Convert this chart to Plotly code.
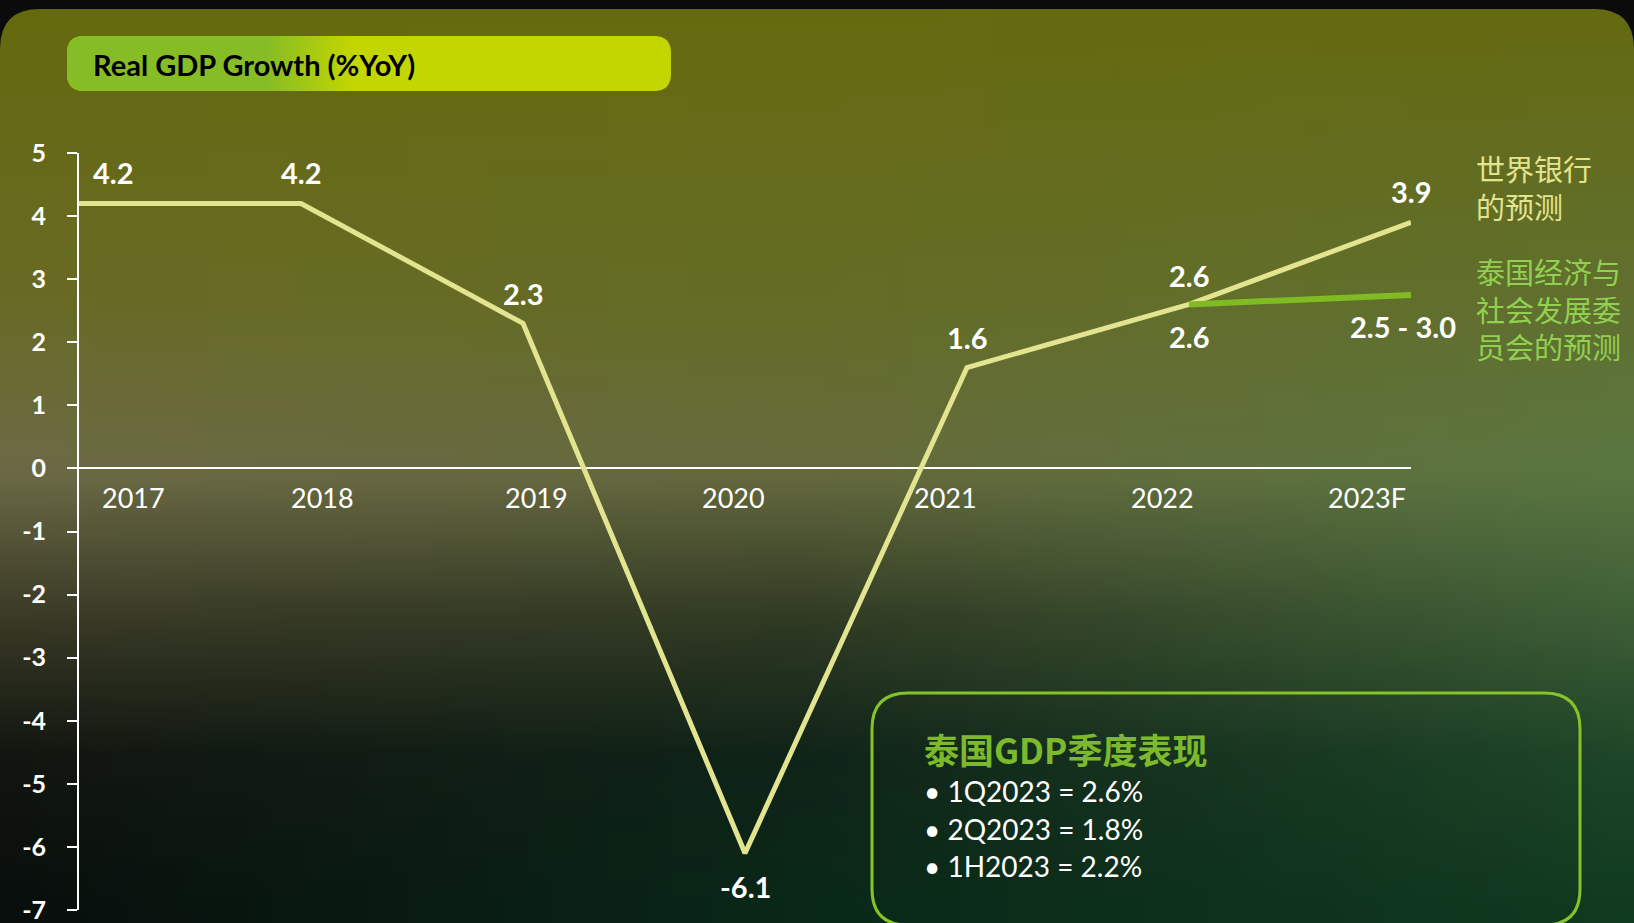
import base64
import struct
import zlib

import plotly.graph_objects as go

# -----------------------------
# Data
# -----------------------------

years = ["2017", "2018", "2019", "2020", "2021", "2022", "2023F"]
gdp_growth = [4.2, 4.2, 2.3, -6.1, 1.6, 2.6, 3.9]
gdp_labels = ["4.2", "4.2", "2.3", "-6.1", "1.6", "2.6", "3.9"]

nesdc_years = ["2022", "2023F"]
nesdc_growth = [2.6, 2.75]
nesdc_labels = ["2.6", "2.5 - 3.0"]

y_ticks = list(range(-7, 6))

chart_title = "Real GDP Growth (%YoY)"
wb_note = ["世界银行", "的预测"]
nesdc_note = ["泰国经济与", "社会发展委", "员会的预测"]

quarter_title = "泰国GDP季度表现"
quarter_lines = ["1Q2023 = 2.6%", "2Q2023 = 1.8%", "1H2023 = 2.2%"]

# -----------------------------
# Page geometry / styles
# -----------------------------

W, H = 1634, 923
ML, MR, MT, MB = 79, 223, 153, 13
PW = W - ML - MR
PH = H - MT - MB

PALE = "#e3e48f"
GREEN = "#80bb24"
NOTE_GREEN = "#92d050"
FONT = "Lato, Noto Sans CJK SC, sans-serif"
CJK = "Noto Sans CJK SC, Lato, sans-serif"

# label offsets in pixels (x, y)
gdp_label_dx = [34, 0, 0, 0, 0, 0, 0]
gdp_label_dy = [31, 31, 30, -33, 30, 29, 31]
nesdc_label_dx = [0, -8]
nesdc_label_dy = [-32, -32]
year_label_dx = [54, 21, 13, -12, -22, -27, -44]


def fx(x):
    return (x - ML) / PW


def fy(y):
    return 1 - (y - MT) / PH


def pt(x, y):
    return f"{fx(x):.5f},{fy(y):.5f}"


def rounded_rect(x0, y0, x1, y1, r):
    return (
        f"M {pt(x0 + r, y0)} L {pt(x1 - r, y0)} Q {pt(x1, y0)} {pt(x1, y0 + r)} "
        f"L {pt(x1, y1 - r)} Q {pt(x1, y1)} {pt(x1 - r, y1)} "
        f"L {pt(x0 + r, y1)} Q {pt(x0, y1)} {pt(x0, y1 - r)} "
        f"L {pt(x0, y0 + r)} Q {pt(x0, y0)} {pt(x0 + r, y0)} Z"
    )


def mix(c1, c2, t):
    return tuple(int(round(a + (b - a) * t)) for a, b in zip(c1, c2))


# -----------------------------
# Background gradient as a small png
# -----------------------------

bg_cols = [0, 800, 1634]
bg_rows = [9, 300, 470, 620, 760, 923]
bg_colors = [
    [(101, 105, 14), (102, 106, 15), (100, 106, 18)],
    [(104, 106, 38), (100, 108, 38), (96, 112, 48)],
    [(108, 106, 70), (102, 106, 62), (90, 118, 64)],
    [(58, 58, 38), (48, 58, 36), (62, 94, 54)],
    [(18, 22, 16), (16, 36, 24), (30, 70, 40)],
    [(8, 14, 12), (9, 40, 24), (16, 58, 32)],
]


def seg(stops, v):
    for i in range(len(stops) - 1):
        if v <= stops[i + 1]:
            return i, (v - stops[i]) / (stops[i + 1] - stops[i])
    return len(stops) - 2, 1.0


def make_png(w, h):
    raw = b""
    for j in range(h):
        y = 9 + (923 - 9) * j / (h - 1)
        r, ty = seg(bg_rows, y)
        row = b"\x00"
        for i in range(w):
            x = W * i / (w - 1)
            c, tx = seg(bg_cols, x)
            top = mix(bg_colors[r][c], bg_colors[r][c + 1], tx)
            bot = mix(bg_colors[r + 1][c], bg_colors[r + 1][c + 1], tx)
            row += bytes(mix(top, bot, ty))
        raw += row

    def chunk(tag, data):
        body = tag + data
        return struct.pack(">I", len(data)) + body + struct.pack(">I", zlib.crc32(body) & 0xFFFFFFFF)

    png = (
        b"\x89PNG\r\n\x1a\n"
        + chunk(b"IHDR", struct.pack(">IIBBBBB", w, h, 8, 2, 0, 0, 0))
        + chunk(b"IDAT", zlib.compress(raw))
        + chunk(b"IEND", b"")
    )
    return "data:image/png;base64," + base64.b64encode(png).decode()


# -----------------------------
# Figure
# -----------------------------

x_idx = list(range(len(years)))
nesdc_idx = [years.index(y) for y in nesdc_years]

fig = go.Figure()

fig.add_trace(go.Scatter(
    x=x_idx, y=gdp_growth, mode="lines",
    line=dict(color=PALE, width=5),
    cliponaxis=False, hoverinfo="skip", showlegend=False,
))

fig.add_trace(go.Scatter(
    x=nesdc_idx, y=nesdc_growth, mode="lines",
    line=dict(color=GREEN, width=6),
    cliponaxis=False, hoverinfo="skip", showlegend=False,
))

annotations = []

for i, (v, lab) in enumerate(zip(gdp_growth, gdp_labels)):
    annotations.append(dict(
        x=i, y=v, text=lab, showarrow=False,
        xshift=gdp_label_dx[i], yshift=gdp_label_dy[i],
        font=dict(family=FONT, size=29, color="white", weight="bold"),
    ))

for k, (i, v) in enumerate(zip(nesdc_idx, nesdc_growth)):
    annotations.append(dict(
        x=i, y=v, text=nesdc_labels[k], showarrow=False,
        xshift=nesdc_label_dx[k], yshift=nesdc_label_dy[k],
        font=dict(family=FONT, size=29, color="white", weight="bold"),
    ))

for i, yr in enumerate(years):
    annotations.append(dict(
        x=i, y=0, text=yr, showarrow=False,
        xshift=year_label_dx[i], yshift=-29,
        font=dict(family=FONT, size=27, color="white"),
    ))

annotations.append(dict(
    xref="paper", yref="paper", x=fx(91), y=fy(64),
    xanchor="left", yanchor="middle", showarrow=False,
    text=chart_title,
    font=dict(family=FONT, size=29, color="black", weight="bold"),
))

annotations.append(dict(
    xref="paper", yref="paper", x=fx(1474), y=fy(145),
    xanchor="left", yanchor="top", align="left", showarrow=False,
    text="<br>".join(wb_note),
    font=dict(family=CJK, size=29, color=PALE),
))

annotations.append(dict(
    xref="paper", yref="paper", x=fx(1474), y=fy(248),
    xanchor="left", yanchor="top", align="left", showarrow=False,
    text="<br>".join(nesdc_note),
    font=dict(family=CJK, size=29, color=NOTE_GREEN),
))

annotations.append(dict(
    xref="paper", yref="paper", x=fx(922), y=fy(748),
    xanchor="left", yanchor="middle", showarrow=False, text=quarter_title,
    font=dict(family=CJK, size=35, color="#7cb92c", weight="bold"),
))

for k, line in enumerate(quarter_lines):
    annotations.append(dict(
        xref="paper", yref="paper", x=fx(922), y=fy(791 + 37.5 * k),
        xanchor="left", yanchor="middle", showarrow=False, text="• " + line,
        font=dict(family=FONT, size=28, color="white"),
    ))

# -----------------------------
# Decorative shapes
# -----------------------------

shapes = []

# rounded top corners of the panel
shapes.append(dict(type="path", xref="paper", yref="paper", layer="below",
                   path=f"M {pt(0, 9)} L {pt(40, 9)} Q {pt(0, 9)} {pt(0, 49)} Z",
                   fillcolor="#0b0b0b", line=dict(width=0)))
shapes.append(dict(type="path", xref="paper", yref="paper", layer="below",
                   path=f"M {pt(W, 9)} L {pt(W - 40, 9)} Q {pt(W, 9)} {pt(W, 49)} Z",
                   fillcolor="#0b0b0b", line=dict(width=0)))

# title pill with green -> lime gradient
t_green = (134, 188, 37)
t_lime = (196, 214, 0)
shapes.append(dict(type="path", xref="paper", yref="paper", layer="below",
                   path=rounded_rect(67, 36, 671, 91, 17),
                   fillcolor="rgb(196,214,0)", line=dict(width=0)))
shapes.append(dict(type="path", xref="paper", yref="paper", layer="below",
                   path=rounded_rect(67, 36, 300, 91, 17),
                   fillcolor="rgb(134,188,37)", line=dict(width=0)))
n_band = 30
for b in range(n_band):
    x0 = 265 + b * 3
    c = mix(t_green, t_lime, b / (n_band - 1))
    shapes.append(dict(type="rect", xref="paper", yref="paper", layer="below",
                       x0=fx(x0), x1=fx(x0 + 3.5), y0=fy(91), y1=fy(36),
                       fillcolor=f"rgb{c}", line=dict(width=0)))

# quarterly box outline
shapes.append(dict(type="path", xref="paper", yref="paper", layer="below",
                   path=rounded_rect(872, 693, 1580, 925, 36),
                   fillcolor="rgba(0,0,0,0)", line=dict(color="#86c22a", width=3)))

fig.update_layout(
    width=W, height=H,
    margin=dict(l=ML, r=MR, t=MT, b=MB, autoexpand=False),
    paper_bgcolor="#0b0b0b",
    plot_bgcolor="rgba(0,0,0,0)",
    font=dict(family=FONT, color="white"),
    images=[dict(
        source=make_png(82, 46), xref="paper", yref="paper",
        x=fx(0), y=fy(9), sizex=W / PW, sizey=(H - 9) / PH,
        xanchor="left", yanchor="top", sizing="stretch", layer="below",
    )],
    shapes=shapes,
    annotations=annotations,
    xaxis=dict(range=[0, len(years) - 1], visible=False, fixedrange=True,
               automargin=False),
    yaxis=dict(
        range=[-7, 5], tickvals=y_ticks, ticktext=[str(t) for t in y_ticks],
        showgrid=False, automargin=False,
        zeroline=True, zerolinecolor="white", zerolinewidth=2,
        showline=True, linecolor="white", linewidth=2,
        ticks="outside", ticklen=10, tickwidth=2, tickcolor="white",
        ticklabelstandoff=16, ticklabeloverflow="allow",
        tickfont=dict(family=FONT, size=25, color="white", weight="bold"),
        fixedrange=True,
    ),
)

fig.write_html("out.html", config={"displayModeBar": False},
               post_script="document.body.style.margin='0';")
